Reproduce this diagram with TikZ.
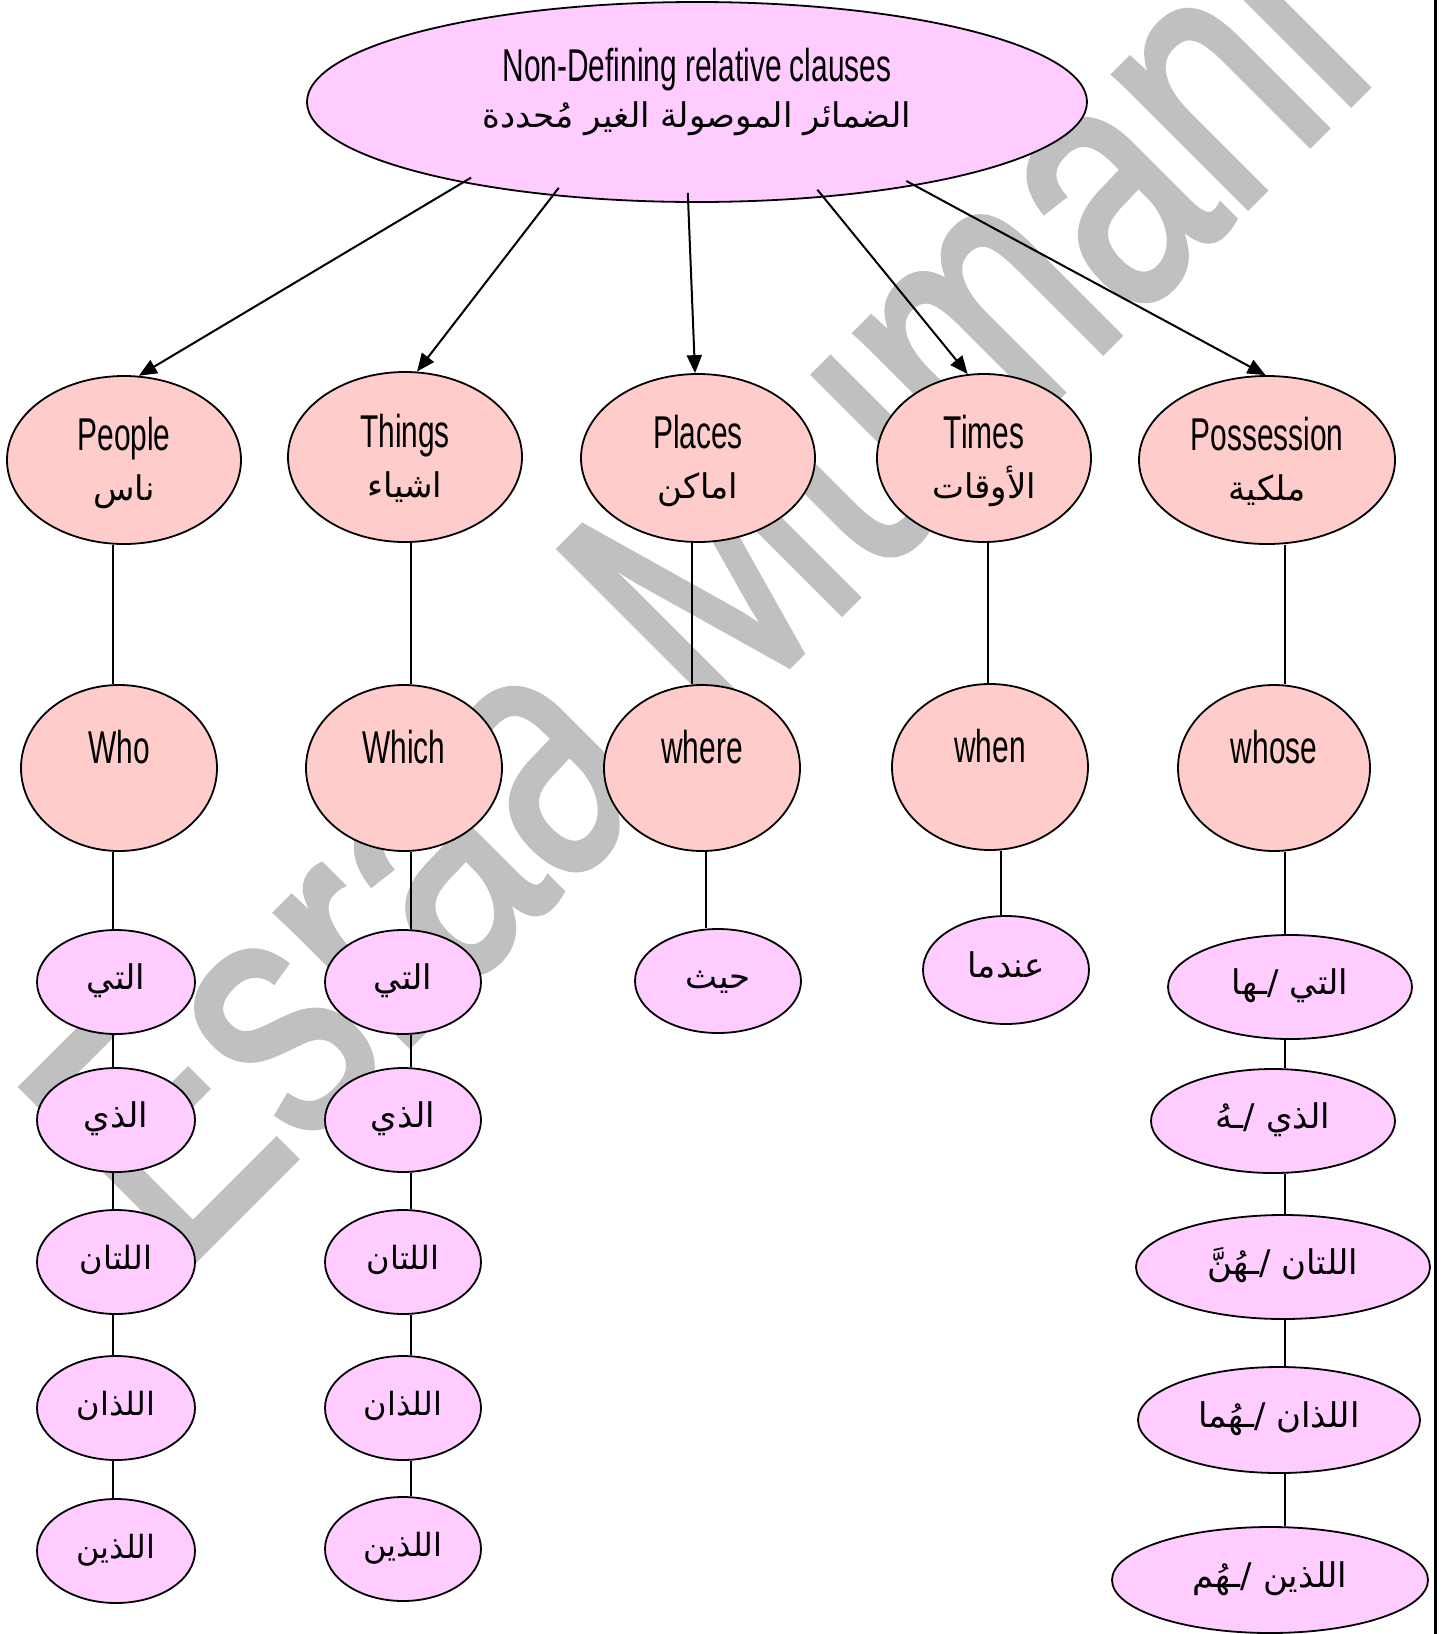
\documentclass[tikz,border=0pt]{standalone}
\usepackage{fontspec}
\usetikzlibrary{arrows.meta,shapes.geometric}
\TeXXeTstate=1
\newfontfamily\agency[FakeStretch=0.65]{Liberation Sans}
\newfontfamily\wmfont[FakeStretch=0.74,FakeBold=1.6]{Liberation Sans}
\newfontfamily\arabicfont[Script=Arabic]{DejaVu Sans}
\newcommand\AR[2][17pt]{{\fontsize{#1}{#1}\arabicfont\beginR #2\endR}}
\definecolor{topfill}{HTML}{FFCCFF}
\definecolor{catfill}{HTML}{FFCCCC}
\definecolor{wmgray}{HTML}{C0C0C0}
\begin{document}
\begin{tikzpicture}[x=0.5pt,y=-0.5pt,
  ell/.style={ellipse, draw, line width=0.9pt, inner sep=0pt},
  topnode/.style={ell, fill=topfill, minimum width=390pt, minimum height=100pt,
    font=\agency\fontsize{23pt}{23pt}\selectfont, align=center, text height=30pt, text depth=5pt},
  cat/.style={ell, fill=catfill, font=\agency\fontsize{23pt}{25pt}\selectfont,
    align=center, text height=45pt, text depth=5pt},
  rel/.style={ell, fill=catfill, minimum width=98pt, minimum height=83pt,
    font=\agency\fontsize{23pt}{25pt}\selectfont, text height=18pt, text depth=23pt},
  ar/.style={ell, fill=topfill, minimum height=52pt, text height=12pt, text depth=5pt},
  arrowline/.style={line width=1pt, -{Triangle[length=9pt,width=7.5pt]}, shorten <=-5pt},
  link/.style={line width=0.7pt},
  link2/.style={line width=1pt}
]
\useasboundingbox (0,0) rectangle (1447,1634);
% watermark
\node[text=wmgray, rotate=45, inner sep=0pt,
  font=\wmfont\fontsize{178pt}{178pt}\selectfont] (wm) at (690,585) {Esraa Mumani};
% page border
\coordinate (b1) at (1435,0);
\coordinate (b2) at (1435,1634);
\draw[line width=1.5pt] (b1) -- (b2);

% top
\node[topnode] (top) at (697,102) {Non-Defining relative clauses\\\AR{الضمائر الموصولة الغير مُحددة}};

% categories
\node[cat, minimum width=117pt, minimum height=84pt] (people) at (124,460) {People\\\AR{ناس}};
\node[cat, minimum width=117pt, minimum height=85pt] (things) at (405,457) {Things\\\AR{اشياء}};
\node[cat, minimum width=117pt, minimum height=84pt] (places) at (698,458) {Places\\\AR{اماكن}};
\node[cat, minimum width=107pt, minimum height=84pt] (times) at (984,458) {Times\\\AR{الأوقات}};
\node[cat, minimum width=128pt, minimum height=84pt] (poss) at (1267,460) {Possession\\\AR{ملكية}};

% relative pronouns
\node[rel] (who) at (119,768) {Who};
\node[rel] (which) at (404,768) {Which};
\node[rel] (where) at (702,768) {where};
\node[rel] (when) at (990,767) {when};
\node[rel, minimum width=96pt] (whose) at (1274,768) {whose};

% column 1
\node[ar, minimum width=79pt] (a1) at (116,982) {\AR{التي}};
\node[ar, minimum width=79pt] (a2) at (116,1120) {\AR{الذي}};
\node[ar, minimum width=79pt] (a3) at (116,1262) {\AR[16pt]{اللتان}};
\node[ar, minimum width=79pt] (a4) at (116,1408) {\AR[16pt]{اللذان}};
\node[ar, minimum width=79pt] (a5) at (116,1551) {\AR[16pt]{اللذين}};
% column 2
\node[ar, minimum width=78pt] (b1n) at (403,982) {\AR{التي}};
\node[ar, minimum width=78pt] (b2n) at (403,1120) {\AR{الذي}};
\node[ar, minimum width=78pt] (b3n) at (403,1262) {\AR[16pt]{اللتان}};
\node[ar, minimum width=78pt] (b4n) at (403,1408) {\AR[16pt]{اللذان}};
\node[ar, minimum width=78pt] (b5n) at (403,1549) {\AR[16pt]{اللذين}};
% column 3, 4
\node[ar, minimum width=83pt] (haith) at (718,981) {\AR{حيث}};
\node[ar, minimum width=83pt, minimum height=54pt] (indama) at (1006,970) {\AR{عندما}};
% column 5
\node[ar, minimum width=122pt] (p1) at (1290,987) {\AR{التي /ـها}};
\node[ar, minimum width=122pt] (p2) at (1273,1121) {\AR{الذي /ـهُ}};
\node[ar, minimum width=147pt] (p3) at (1283,1267) {\AR{اللتان /ـهُنَّ}};
\node[ar, minimum width=141pt, minimum height=53pt] (p4) at (1279,1420) {\AR{اللذان /ـهُما}};
\node[ar, minimum width=158pt, minimum height=53pt] (p5) at (1270,1580) {\AR{اللذين /ـهُم}};

% arrows from the top
\draw[arrowline] (top.199.4) -- (people.80.5);
\draw[arrowline] (top.213) -- (things.82);
\draw[arrowline] (top.265.4) -- (places.92);
\draw[arrowline] (top.323.2) -- (times.101);
\draw[arrowline] (top.339.2) -- (poss.91);

% column x positions of the connectors
\coordinate (x1) at (113,0);
\coordinate (x2) at (411,0);
\coordinate (x3) at (692,0);
\coordinate (x3b) at (706,0);
\coordinate (x4) at (988,0);
\coordinate (x4b) at (1001,0);
\coordinate (x5) at (1285,0);

\draw[link] (people.south -| x1) -- (who.north -| x1);
\draw[link] (things.south -| x2) -- (which.north -| x2);
\draw[link] (places.south -| x3) -- (where.north -| x3);
\draw[link] (times.south -| x4) -- (when.north -| x4);
\draw[link] (poss.south -| x5) -- (whose.north -| x5);

\draw[link2] (who.south -| x1) -- (a1.north -| x1);
\draw[link2] (a1.south -| x1) -- (a2.north -| x1);
\draw[link2] (a2.south -| x1) -- (a3.north -| x1);
\draw[link2] (a3.south -| x1) -- (a4.north -| x1);
\draw[link2] (a4.south -| x1) -- (a5.north -| x1);

\draw[link2] (which.south -| x2) -- (b1n.north -| x2);
\draw[link2] (b1n.south -| x2) -- (b2n.north -| x2);
\draw[link2] (b2n.south -| x2) -- (b3n.north -| x2);
\draw[link2] (b3n.south -| x2) -- (b4n.north -| x2);
\draw[link2] (b4n.south -| x2) -- (b5n.north -| x2);

\draw[link2] (where.south -| x3b) -- (haith.north -| x3b);
\draw[link2] (when.south -| x4b) -- (indama.north -| x4b);

\draw[link2] (whose.south -| x5) -- (p1.north -| x5);
\draw[link2] (p1.south -| x5) -- (p2.north -| x5);
\draw[link2] (p2.south -| x5) -- (p3.north -| x5);
\draw[link2] (p3.south -| x5) -- (p4.north -| x5);
\draw[link2] (p4.south -| x5) -- (p5.north -| x5);
\end{tikzpicture}
\end{document}
